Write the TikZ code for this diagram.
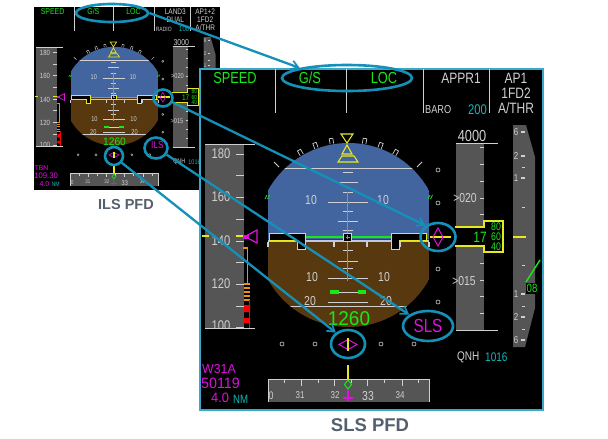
\documentclass[tikz,border=0pt]{standalone}
\usepackage{fontspec}
\setmainfont{Liberation Sans}
\newfontfamily\pfdfont[FakeStretch=0.8]{Liberation Sans}
\newfontfamily\pfdwide[FakeStretch=0.95]{Liberation Sans}
\usetikzlibrary{arrows.meta,shapes.geometric}
\definecolor{hilite}{HTML}{1590B8}
\definecolor{skyc}{HTML}{43659F}
\definecolor{earthc}{HTML}{58390F}
\definecolor{tapec}{HTML}{555555}
\definecolor{yel}{HTML}{E8E820}
\definecolor{grn}{HTML}{18E818}
\definecolor{mag}{HTML}{E010E0}
\definecolor{cyn}{HTML}{10B8B8}
\definecolor{lgr}{HTML}{D0D0D0}
\definecolor{oran}{HTML}{F09010}
\definecolor{titlec}{HTML}{55606E}
\definecolor{framec}{HTML}{3AA8C8}
\def\lwf{1}
\tikzset{
  x=1pt,y=-1pt,
  pft/.style={font=\pfdfont\fontsize{#1}{#1}\selectfont,inner sep=0pt,transform shape},
  pfw/.style={font=\pfdwide\fontsize{#1}{#1}\selectfont,inner sep=0pt,transform shape},
  ln/.style={line width=#1pt*\lwf},
  ln/.default=1,
  hoop/.style={draw=hilite,line width=2.6pt,ellipse,inner sep=0pt,fill=none},
  link/.style={draw=hilite,line width=2.3pt,-{Straight Barb[length=7pt,width=9pt,line width=1.7pt]}},
  headline/.style={font=\bfseries\fontsize{#1}{#1}\selectfont,text=titlec,inner sep=0pt}
}
% 1,2 mode lines; 3,4 minima; 5 autopilot line; 6 target altitude; 7,8 waypoint; 9 scale label
\newcommand\pfdpanel[9]{%
  % top annunciators
  \draw[lgr,ln=1] (275,69)--(275,113) (346,69)--(346,113) (423,69)--(423,113) (489,69)--(489,113);
  \node[pft=16,text=grn] (speed) at (235,78) {SPEED};
  \node[pft=16,text=grn] (gsmode) at (310,78) {G/S};
  \node[pft=16,text=grn] (locmode) at (384,78) {LOC};
  \node[pft=15,text=lgr] (fma1) at (461,78) {#1};
  \node[pft=15,text=lgr] (fma2) at (461,93) {#2};
  \node[pft=11.5,text=lgr,anchor=west] (minlabel) at (425,110) {#3};
  \node[pft=14,text=cyn,anchor=east] (minval) at (487,110) {#4};
  \node[pft=15,text=lgr] (ap1) at (516,78) {#5};
  \node[pft=15,text=lgr] (ap2) at (516,93) {1FD2};
  \node[pft=15,text=lgr] (ap3) at (516,108) {A/THR};
  % attitude sphere
  \begin{scope}
    \clip (268,100) rectangle (429,340);
    \clip (348.5,235) circle[radius=92];
    \fill[skyc] (268,100) rectangle (429,239);
    \fill[earthc] (268,239) rectangle (429,340);
    \draw[lgr,ln=1] (280,168)--(416,168);
    \draw[draw={rgb,255:red,190;green,200;blue,230},ln=2] (268,240.5)--(429,240.5);
    \draw[lgr,ln=1] (288,306)--(408,306);
  \end{scope}
  \draw[lgr,ln=.8] (279,167)--(274,162) (417,167)--(422,162);
  \foreach \a in {-30,-20,-10,10,20,30}
    \draw[lgr,ln=.7,shift={(348,235)},rotate=\a] (-1.8,-92.5)--(-1.8,-98)--(1.8,-98)--(1.8,-92.5);
  \foreach \px in {268,301,334,367,400,429}
    \draw[lgr,ln=1.2] (\px,242)--(\px,247);
  % pitch ladder
  \foreach \py/\pw in {172/5,182/10,192/5,202/20,211/5,221/10,230/5,250/5,261/10,268/5,278/20,292/10,302/20}
    \draw[lgr,ln=.9] (347.5-\pw,\py)--(347.5+\pw,\py);
  \draw[grn,ln=1.1] (347.5,192)--(347.5,281);
  \draw[grn,ln=1.1] (305,237)--(391,237);
  \draw[grn,ln=1.1] (330,291)--(339,291) (330,293)--(339,293) (358,291)--(366,291) (358,293)--(366,293);
  \node[pft=13,text=lgr] (p10a) at (311,200) {10};
  \node[pft=13,text=lgr] (p10b) at (383,200) {10};
  \node[pft=13,text=lgr] (p10c) at (312,277) {10};
  \node[pft=13,text=lgr] (p10d) at (384,277) {10};
  \node[pft=13,text=lgr] (p20a) at (310,301) {20};
  \node[pft=13,text=lgr] (p20b) at (386,301) {20};
  % aircraft symbol
  \filldraw[fill=black,draw=yel,ln=1] (269,233)--(305,233)--(305,249)--(297,249)--(297,240)--(269,240)--cycle;
  \filldraw[fill=black,draw=yel,ln=1] (426,233)--(391,233)--(391,249)--(399,249)--(399,240)--(426,240)--cycle;
  \filldraw[fill=black,draw=yel,ln=1] (343.5,233.5) rectangle (351.5,241.5);
  \draw[grn,ln=1] (345.5,237)--(349.5,237) (347.5,235)--(347.5,239);
  % bank pointer
  \draw[yel,ln=1.1] (341,134)--(353,134)--(347,143)--cycle;
  \draw[yel,ln=1.1] (347,145)--(342,154)--(352,154)--cycle;
  \draw[yel,ln=1.1] (342,156)--(354,156)--(358,162)--(338,162)--cycle;
  \draw[grn,ln=.8] (265,199)--(267,195) (267.5,199)--(269.5,195) (428,199)--(430,195) (430.5,199)--(432.5,195);
  % speed tape
  \fill[tapec] (205,144) rectangle (244,328);
  \draw[lgr,ln=1] (205,144)--(255,144) (205,328)--(255,328);
  \foreach \ty in {154,175,197,219,241,262,284,306,327}
    \draw[lgr,ln=1] (236,\ty)--(244,\ty);
  \node[pft=14,text=lgr] (s180) at (221,154) {180};
  \node[pft=14,text=lgr] (s160) at (221,197) {160};
  \node[pft=14,text=lgr] (s140) at (221,241) {140};
  \node[pft=14,text=lgr] (s120) at (221,284) {120};
  \node[pft=14,text=lgr,anchor=north] (s100) at (221,321) {100};
  \fill[black] (205,328.5) rectangle (256,336);
  \draw[lgr,ln=1] (205,328)--(255,328);
  \draw[yel,ln=1.5] (202,236)--(209,236) (236,236)--(244,236);
  \draw[mag,ln=1.2] (245,236.5)--(257,230)--(257,243)--cycle;
  \fill[mag] (243,235)--(249,235)--(249,239)--(243,239)--cycle;
  \draw[oran,ln=1.2] (243,248)--(247.5,248)--(247.5,284);
  \foreach \oy in {284,288,292,296,300}
    \draw[oran,ln=1.4] (244,\oy)--(249.5,\oy);
  \fill[red] (244,305) rectangle (250,312) (244,318) rectangle (250,323);
  \draw[red,ln=1] (249.5,300)--(249.5,328);
  % altitude tape
  \fill[tapec] (456,143) rectangle (484,330);
  \draw[lgr,ln=1] (456,143)--(498,143) (456,330)--(498,330);
  \foreach \ty in {147,164,181,198,214,263,280,296,313,330}
    \draw[lgr,ln=1] (480,\ty)--(484,\ty);
  \node[pft=16,text=lgr] (alttarget) at (472,136) {#6};
  \node[pft=13,text=lgr] (a020) at (465,198) {>020};
  \node[pft=13,text=lgr] (a015) at (464,281) {>015};
  \filldraw[fill=black,draw=yel,ln=1.2] (455,227)--(484,227)--(484,221)--(503,221)--(503,252)--(484,252)--(484,246)--(455,246);
  \node[pft=15,text=grn] (alt17) at (480,237) {17};
  \node[pft=11,text=grn] (alt80) at (496,227) {80};
  \node[pft=11,text=grn] (alt60) at (496,237) {60};
  \node[pft=11,text=grn] (alt40) at (496,246.5) {40};
  % vertical deviation scale
  \foreach \dy in {170,203,269,302}
    \draw[lgr,ln=.6] (438,\dy) circle[radius=2];
  \draw[yel,ln=2] (430,236.5)--(451,236.5);
  \draw[mag,ln=1] (438,228)--(443,237)--(438,246)--(433,237)--cycle;
  % lateral deviation scale
  \foreach \dx in {282,315,381,414}
    \draw[lgr,ln=.6] (\dx,344) circle[radius=2];
  \draw[mag,ln=1] (339,344.5)--(348,339.5)--(357,344.5)--(348,349.5)--cycle;
  \draw[yel,ln=2.8] (348,338)--(348,351);
  \node[pfw=20,text=grn] (ias) at (349,319) {1260};
  \node[pft=19,text=mag] (modelabel) at (428,326) {#9};
  % V/S scale
  \fill[tapec] (513,125)--(526,125)--(535,157)--(535,308)--(525,347)--(513,347)--cycle;
  \foreach \vy/\vl/\vn in {132/6/a,156/2/b,178/1/c,294/1/d,317/2/e,340/6/f}{
    \node[pft=10,text=lgr] (vs\vn) at (516,\vy) {\vl};
    \draw[lgr,ln=1.4] (521,\vy)--(525,\vy);
  }
  \draw[lgr,ln=.6] (522,167)--(525,167) (522,207)--(525,207) (522,265)--(525,265) (522,306)--(525,306) (522,329)--(525,329);
  \draw[yel,ln=1.8] (513,237)--(526,237);
  \draw[grn,ln=1.4] (526,282)--(540,260);
  \node[pft=12,text=grn,fill=black,inner sep=1pt] (vsval) at (532,288.5) {08};
  % heading scale
  \fill[tapec] (268,379) rectangle (429,402);
  \draw[lgr,ln=.9] (268,402)--(268,379)--(429,379)--(429,402);
  \foreach \hx in {301,334,367,402}
    \draw[lgr,ln=.9] (\hx,379)--(\hx,386);
  \foreach \hx in {284,318,351,384,418}
    \draw[lgr,ln=.9] (\hx,379)--(\hx,383);
  \node[pft=11,text=lgr] (h0) at (271,396) {0};
  \node[pft=10,text=lgr] (h31) at (300,395) {31};
  \node[pft=10,text=lgr] (h32) at (335,395) {32};
  \node[pft=13,text=lgr] (h33) at (368,396) {33};
  \node[pft=10,text=lgr] (h34) at (400,395) {34};
  \draw[yel,ln=2] (348,365)--(348,380);
  \draw[grn,ln=1] (348,380)--(351.5,384.5)--(348,389)--(344.5,384.5)--cycle;
  \draw[mag,ln=1.6] (348,389)--(348,401) (343,398)--(353,398);
  % waypoint and QNH
  \node[pfw=13,text=mag,anchor=west] (wp1) at (202,369) {#7};
  \node[pfw=15,text=mag,anchor=west] (wp2) at (201,383.5) {#8};
  \node[pfw=13.5,text=mag,anchor=west] (wp3) at (211,398) {4.0};
  \node[pft=12,text=cyn,anchor=west] (wp4) at (233,399) {NM};
  \node[pft=12.5,text=lgr,anchor=west] (qnh) at (457,357) {QNH};
  \node[pft=12.5,text=cyn,anchor=west] (qnhv) at (485,357) {1016};
}
\begin{document}
\begin{tikzpicture}
\useasboundingbox (0,0) rectangle (608,439);
\fill[white] (0,0) rectangle (608,439);
% small ILS display
\begin{scope}[shift={(-75,-30)},xscale=.543,yscale=.537,name prefix=ils-]
  \def\lwf{.6}
  \fill[black] (200,69) rectangle (543,410);
  \pfdpanel{LAND3}{DUAL}{RADIO}{100}{AP1+2}{3000}{TBN}{109.30}{ILS}
\end{scope}
% large SLS display
\begin{scope}[name prefix=sls-]
  \def\lwf{1}
  \filldraw[fill=black,draw=framec,line width=1.2pt] (200,69) rectangle (543,410);
  \pfdpanel{APPR1}{}{BARO}{200}{AP1}{4000}{W31A}{50119}{SLS}
\end{scope}
% highlight rings
\node[hoop,minimum width=72pt,minimum height=18pt] (ringgsa) at (112,13) {};
\node[hoop,minimum width=19pt,minimum height=17pt] (ringdeva) at (163,98) {};
\node[hoop,minimum width=23pt,minimum height=21pt] (ringlabela) at (156,148) {};
\node[hoop,minimum width=18pt,minimum height=18pt] (ringlata) at (114,156) {};
\node[hoop,minimum width=130pt,minimum height=26pt] (ringgsb) at (347,78) {};
\node[hoop,minimum width=35pt,minimum height=28pt] (ringdevb) at (438,237) {};
\node[hoop,minimum width=50pt,minimum height=30pt] (ringlabelb) at (428,326) {};
\node[hoop,minimum width=34pt,minimum height=28pt] (ringlatb) at (348,344) {};
% connectors
\draw[link] (ringgsa.east) -- (ringgsb.168);
\draw[link] (ringdeva.-24) -- (ringdevb.137);
\draw[link] (ringlabela.-32) -- (ringlabelb.149);
\draw[link] (ringlata.-41) -- (ringlatb.137);
% captions
\node[headline=14.5] (ilscap) at (126,205) {ILS PFD};
\node[headline=18.5] (slscap) at (370,425) {SLS PFD};
\end{tikzpicture}
\end{document}
